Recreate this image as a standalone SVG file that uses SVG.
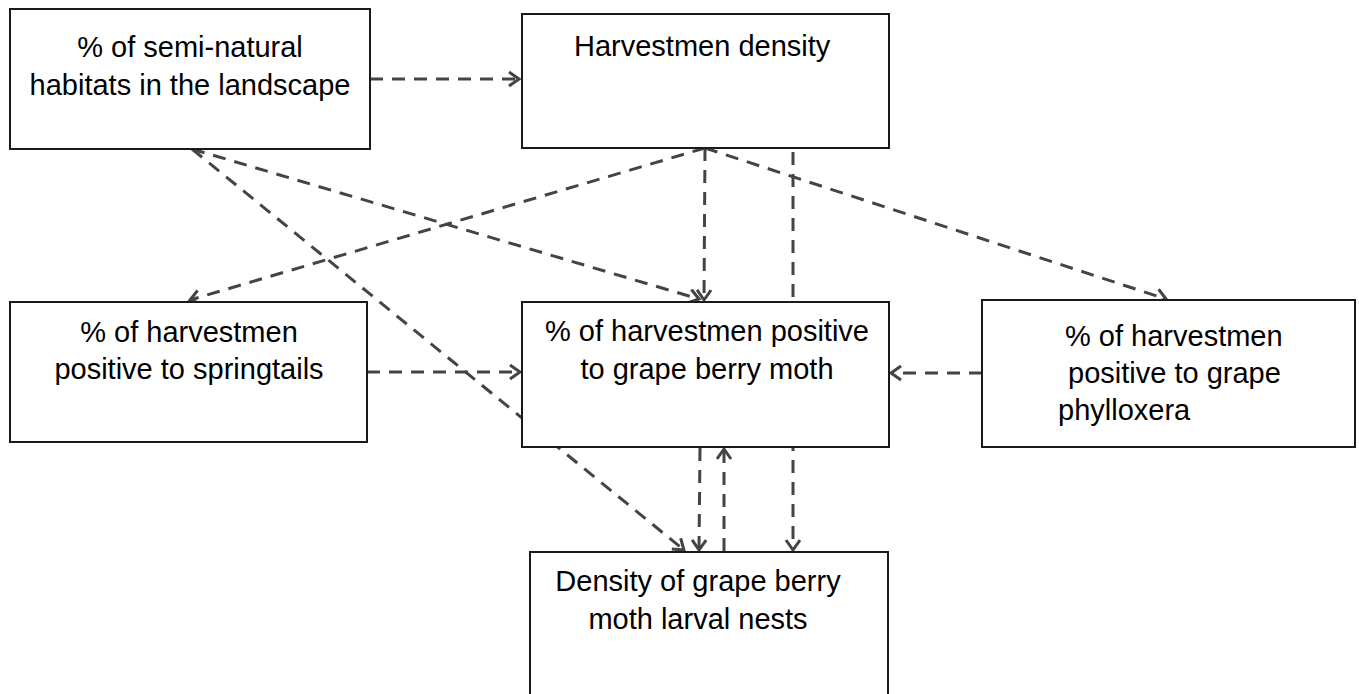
<svg xmlns="http://www.w3.org/2000/svg" width="1359" height="694" viewBox="0 0 1359 694">
<style>
.box{fill:#fff;stroke:#1a1a1a;stroke-width:2}
.t{font-family:"Liberation Sans",Arial,sans-serif;font-size:29px;fill:#000}
.c{text-anchor:middle}
.e{fill:none;stroke:#444;stroke-width:3;stroke-dasharray:13 9}
</style>
<defs>
<marker id="ah" markerUnits="userSpaceOnUse" markerWidth="18" markerHeight="18" refX="12" refY="8" orient="auto">
<path d="M2,1 L12,8 L2,15" fill="none" stroke="#444" stroke-width="3"/>
</marker>
</defs>
<g id="connectors">
<line class="e" x1="370" y1="79" x2="519" y2="79" marker-end="url(#ah)"/>
<line class="e" x1="192" y1="149" x2="699" y2="299" marker-end="url(#ah)"/>
<line class="e" x1="192" y1="149" x2="684" y2="550" marker-end="url(#ah)"/>
<line class="e" x1="705" y1="148" x2="190" y2="300" marker-end="url(#ah)"/>
<line class="e" x1="705" y1="148" x2="704" y2="300" marker-end="url(#ah)"/>
<line class="e" x1="705" y1="148" x2="1166" y2="299" marker-end="url(#ah)"/>
<line class="e" x1="793" y1="152" x2="793" y2="550" marker-end="url(#ah)"/>
<line class="e" x1="367" y1="372" x2="520" y2="372" marker-end="url(#ah)"/>
<line class="e" x1="982" y1="373" x2="891" y2="373" marker-end="url(#ah)"/>
<line class="e" x1="700" y1="448" x2="699" y2="550" marker-end="url(#ah)"/>
<line class="e" x1="724" y1="551" x2="724" y2="449" marker-end="url(#ah)"/>
</g>
<g id="semi-natural">
<rect class="box" x="10" y="9" width="360" height="140"/>
<text class="t c" x="190" y="57">% of semi-natural</text>
<text class="t c" x="190" y="95">habitats in the landscape</text>
</g>
<g id="harvestmen-density">
<rect class="box" x="522" y="14" width="367" height="134"/>
<text class="t" x="574" y="56">Harvestmen density</text>
</g>
<g id="springtails">
<rect class="box" x="10" y="302" width="357" height="140"/>
<text class="t c" x="189" y="342">% of harvestmen</text>
<text class="t c" x="189" y="379">positive to springtails</text>
</g>
<g id="grape-berry-moth">
<rect class="box" x="522" y="302" width="367" height="145"/>
<text class="t c" x="707" y="341">% of harvestmen positive</text>
<text class="t c" x="707" y="379">to grape berry moth</text>
</g>
<g id="phylloxera">
<rect class="box" x="982" y="300" width="373" height="147"/>
<text class="t" x="1065" y="346">% of harvestmen</text>
<text class="t" x="1068" y="383">positive to grape</text>
<text class="t" x="1058" y="420">phylloxera</text>
</g>
<g id="larval-nests">
<rect class="box" x="530" y="552" width="358" height="150"/>
<text class="t c" x="698" y="591">Density of grape berry</text>
<text class="t c" x="698" y="629">moth larval nests</text>
</g>
</svg>
